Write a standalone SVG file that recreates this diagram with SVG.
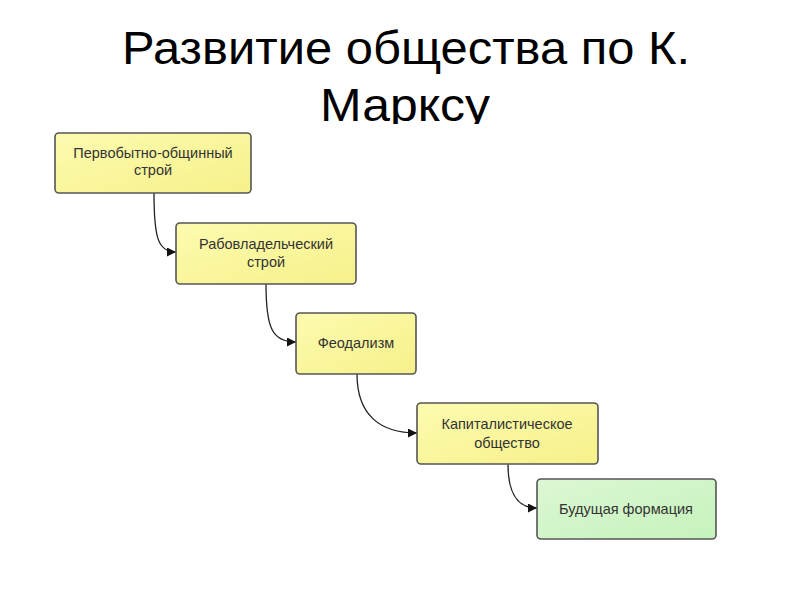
<svg xmlns="http://www.w3.org/2000/svg" width="800" height="600" viewBox="0 0 800 600">
<style>
.title{font-family:"Liberation Sans",Arial,sans-serif;font-size:46px;fill:#000;text-anchor:middle}
.box{stroke:#555;stroke-width:1.6}
.lbl{font-family:"Liberation Sans",Arial,sans-serif;font-size:14.5px;fill:#333;text-anchor:middle}
.conn{fill:none;stroke:#222;stroke-width:1.3}
</style>
<defs>
<linearGradient id="gy" x1="0" y1="0" x2="1" y2="1">
<stop offset="0" stop-color="#fdfbb0"/>
<stop offset="1" stop-color="#f6f18a"/>
</linearGradient>
<linearGradient id="gg" x1="0" y1="0" x2="1" y2="1">
<stop offset="0" stop-color="#dcf7d4"/>
<stop offset="1" stop-color="#c6f3bc"/>
</linearGradient>
<marker id="arr" viewBox="0 0 10 10" refX="10" refY="5" markerWidth="11" markerHeight="9" markerUnits="userSpaceOnUse" orient="auto">
<path d="M0,0 L10,5 L0,10 z" fill="#111"/>
</marker>
<clipPath id="tc"><rect x="0" y="0" width="800" height="124"/></clipPath>
</defs>
<rect width="800" height="600" fill="#fff"/>
<g id="title" clip-path="url(#tc)">
<text class="title" x="406" y="64" textLength="568" lengthAdjust="spacingAndGlyphs">Развитие общества по К.</text>
<text class="title" x="405" y="121" textLength="170" lengthAdjust="spacingAndGlyphs">Марксу</text>
</g>
<g id="connectors">
<path class="conn" d="M154,193 C154,238 158,252 176,252" marker-end="url(#arr)"/>
<path class="conn" d="M266,284 C266,328 272,342 296,342" marker-end="url(#arr)"/>
<path class="conn" d="M357,374 C357,415 380,433 417,433" marker-end="url(#arr)"/>
<path class="conn" d="M508,464 C508,495 518,508 537,508" marker-end="url(#arr)"/>
</g>
<g id="n1">
<rect class="box" x="55" y="133" width="196" height="60" rx="4" fill="url(#gy)"/>
<text class="lbl" x="153" y="158">Первобытно-общинный</text>
<text class="lbl" x="153" y="175">строй</text>
</g>
<g id="n2">
<rect class="box" x="176" y="223" width="180" height="61" rx="4" fill="url(#gy)"/>
<text class="lbl" x="266" y="249">Рабовладельческий</text>
<text class="lbl" x="266" y="267">строй</text>
</g>
<g id="n3">
<rect class="box" x="296" y="313" width="120" height="61" rx="4" fill="url(#gy)"/>
<text class="lbl" x="356" y="348">Феодализм</text>
</g>
<g id="n4">
<rect class="box" x="417" y="403" width="181" height="61" rx="4" fill="url(#gy)"/>
<text class="lbl" x="507" y="429">Капиталистическое</text>
<text class="lbl" x="507" y="448">общество</text>
</g>
<g id="n5">
<rect class="box" x="537" y="479" width="179" height="60" rx="4" fill="url(#gg)"/>
<text class="lbl" x="626" y="514">Будущая формация</text>
</g>
</svg>
